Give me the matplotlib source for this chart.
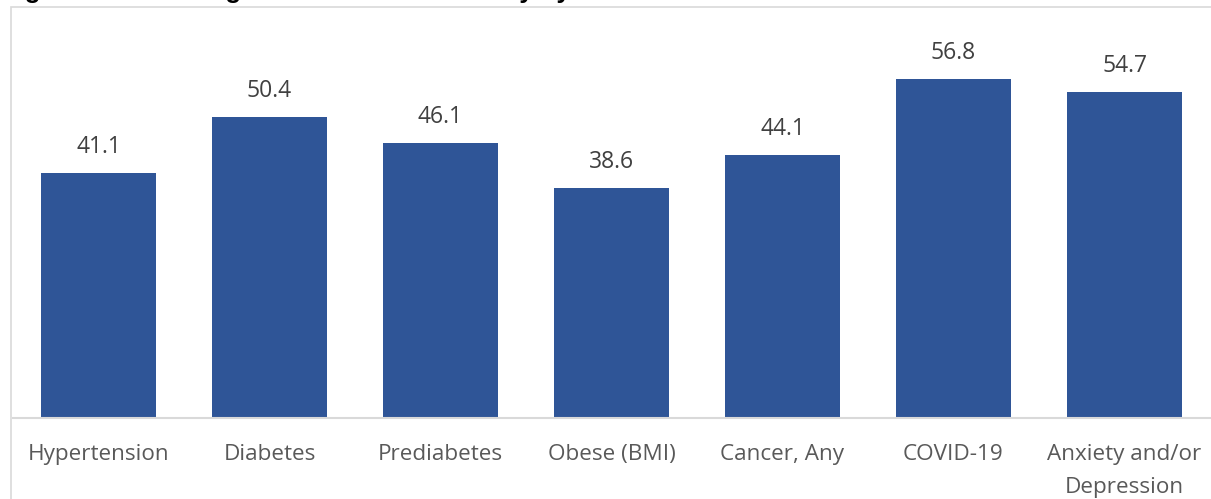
import matplotlib
matplotlib.use("Agg")
from matplotlib import pyplot as plt
from matplotlib.patches import Rectangle

## Chart data ##
categories = ["Hypertension", "Diabetes", "Prediabetes", "Obese (BMI)",
              "Cancer, Any", "COVID-19", "Anxiety and/or\nDepression"]
values = [41.1, 50.4, 46.1, 38.6, 44.1, 56.8, 54.7]
title = "Figure 3. Percentage of Adults with Obesity by Health Condition"

W, H = 1211, 499
BAR_COLOR = "#2F5597"
GRID_GRAY = "#D9D9D9"

plt.rcParams["font.family"] = ["Open Sans", "DejaVu Sans"]

fig = plt.figure(figsize=(W / 100, H / 100), dpi=100)

# outer chart border (cut off on right / bottom like the screenshot)
fig.patches.append(Rectangle((11 / W, -0.05), 1.1, (H - 7) / H + 0.05,
                             transform=fig.transFigure, fill=False,
                             edgecolor=GRID_GRAY, linewidth=1.2))

# title mostly cropped off the top, as in the source screenshot
fig.text(2 / W, 1 + 2 / H, title, fontsize=18.5, fontweight="bold",
         family=["Liberation Sans", "DejaVu Sans"], color="black",
         ha="left", va="baseline")

# axes: baseline at y=418 px, value 60 at y=60 px
ax = fig.add_axes([13 / W, (H - 418) / H, (1210 - 13) / W, 358 / H])
x = range(len(categories))
bars = ax.bar(x, values, width=0.67, color=BAR_COLOR, zorder=2)

ax.set_xlim(-0.5, len(categories) - 0.5)
ax.set_ylim(0, 60)
ax.set_yticks([])
ax.set_xticks(list(x))
ax.set_xticklabels(categories, fontsize=16.2, color="#595959", linespacing=1.72)
ax.tick_params(axis="x", length=0, pad=19)

for s in ["top", "right", "left"]:
    ax.spines[s].set_visible(False)
ax.spines["bottom"].set_color(GRID_GRAY)
ax.spines["bottom"].set_linewidth(1.5)

for b, v in zip(bars, values):
    ax.annotate(f"{v:.1f}", (b.get_x() + b.get_width() / 2, v),
                xytext=(0, 14.4), textcoords="offset points",
                ha="center", va="baseline", fontsize=16.5, color="#404040")

fig.savefig("out.png", dpi=100)
